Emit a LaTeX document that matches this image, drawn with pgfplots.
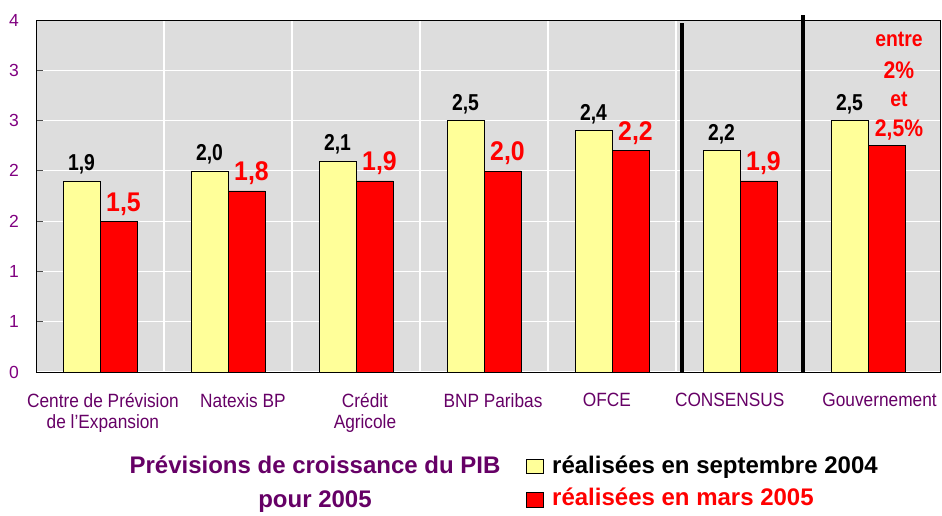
\documentclass[border=0pt]{standalone}
\usepackage{pgfplots}
\pgfplotsset{compat=1.18}
\usepackage{fontspec}
\setmainfont{Liberation Sans}
\newfontfamily\fA[FakeStretch=0.84]{Liberation Sans}
\newfontfamily\fB[FakeStretch=0.92]{Liberation Sans}
\newfontfamily\fC[FakeStretch=0.88]{Liberation Sans}
\newfontfamily\fCat[FakeStretch=0.9]{Liberation Sans}
\definecolor{bggray}{RGB}{221,221,221}
\definecolor{barY}{RGB}{255,255,153}
\definecolor{barR}{RGB}{255,0,0}
\definecolor{purp}{RGB}{102,0,102}
\definecolor{tickpurp}{RGB}{128,0,128}
\begin{document}
\begin{tikzpicture}[x=1pt,y=1pt]
\useasboundingbox (-36,-143) rectangle (906,372);
\begin{axis}[
  at={(0,0)}, anchor=south west,
  scale only axis, width=904pt, height=352pt,
  xmin=-0.5, xmax=6.5625, ymin=0, ymax=3.5,
  clip=false,
  axis background/.style={fill=bggray},
  axis line style={black, line width=1pt},
  ybar=0pt, bar width=37pt,
  xtick={0.023,1.117,2.07,3.07,3.96,4.92,6.09},
  xticklabels={{Centre de Prévision\\de l’Expansion}, {Natexis BP}, {Crédit\\Agricole}, {BNP Paribas}, {OFCE}, {CONSENSUS}, {Gouvernement}},
  xtick style={draw=none},
  xticklabel style={font=\fCat\fontsize{19.2}{21}\selectfont, text=purp, align=center, anchor=north, inner sep=0pt, yshift=-21pt},
  minor xtick={0.5,1.5,2.5,3.5,4.5,5.5},
  minor tick length=0pt,
  xminorgrids=true,
  ytick={0,0.5,1,1.5,2,2.5,3,3.5},
  yticklabels={0,1,1,2,2,3,3,4},
  ytick pos=left,
  tick align=inside,
  major tick length=7pt,
  ytick style={black!70, line width=1pt},
  yticklabel style={font=\fontsize{17.5}{20}\selectfont, text=tickpurp, anchor=east, inner sep=0pt, xshift=-17pt},
  /pgf/number format/assume math mode=true,
  ymajorgrids=true,
  major grid style={white, line width=1.2pt},
  minor grid style={white, line width=1.2pt},
]
\addplot[fill=barY, draw=black, line width=0.6pt, point meta=explicit symbolic,
  nodes near coords,
  nodes near coords style={font=\fA\fontsize{23}{26}\selectfont\bfseries, text=black, anchor=base, inner sep=0pt, yshift=10pt}]
  coordinates {(0,1.9)[1,9] (1,2.0)[2,0] (2,2.1)[2,1] (3,2.5)[2,5] (4,2.4)[2,4] (5,2.2)[2,2] (6,2.5)[2,5]};
\addplot[fill=barR, draw=black, line width=0.6pt, point meta=explicit symbolic,
  nodes near coords,
  nodes near coords style={font=\fB\fontsize{27}{30}\selectfont\bfseries, text=red, anchor=base, inner sep=0pt, yshift=10pt, xshift=5pt}]
  coordinates {(0,1.5)[1,5] (1,1.8)[1,8] (2,1.9)[1,9] (3,2.0)[2,0] (4,2.2)[2,2] (5,1.9)[1,9] (6,2.25)[{}]};
\draw[line width=4pt] (axis cs:4.547,0) -- (axis cs:4.547,3.47);
\draw[line width=4pt] (axis cs:5.492,0) -- (axis cs:5.492,3.55);
\node[anchor=base, inner sep=0pt, text=red, font=\fC\fontsize{22}{26}\selectfont\bfseries] at (axis cs:6.242,3.24) {entre};
\node[anchor=base, inner sep=0pt, text=red, font=\fC\fontsize{24}{28}\selectfont\bfseries] at (axis cs:6.242,2.92) {2\%};
\node[anchor=base, inner sep=0pt, text=red, font=\fC\fontsize{22}{26}\selectfont\bfseries] at (axis cs:6.242,2.64) {et};
\node[anchor=base, inner sep=0pt, text=red, font=\fC\fontsize{24}{28}\selectfont\bfseries] at (axis cs:6.242,2.34) {2,5\%};
\end{axis}
\node[anchor=base, inner sep=0pt, text=purp, font=\fontsize{24}{28}\selectfont\bfseries] at (279,-101) {Prévisions de croissance du PIB};
\node[anchor=base, inner sep=0pt, text=purp, font=\fontsize{24}{28}\selectfont\bfseries] at (279,-135) {pour 2005};
\draw[fill=barY, line width=0.8pt] (490,-87) rectangle (507,-101);
\node[anchor=base west, inner sep=0pt, text=black, font=\fontsize{24}{28}\selectfont\bfseries] at (516,-101) {réalisées en septembre 2004};
\draw[fill=barR, line width=0.8pt] (490,-120) rectangle (507,-135);
\node[anchor=base west, inner sep=0pt, text=red, font=\fontsize{24}{28}\selectfont\bfseries] at (516,-133) {réalisées en mars 2005};
\end{tikzpicture}
\end{document}
